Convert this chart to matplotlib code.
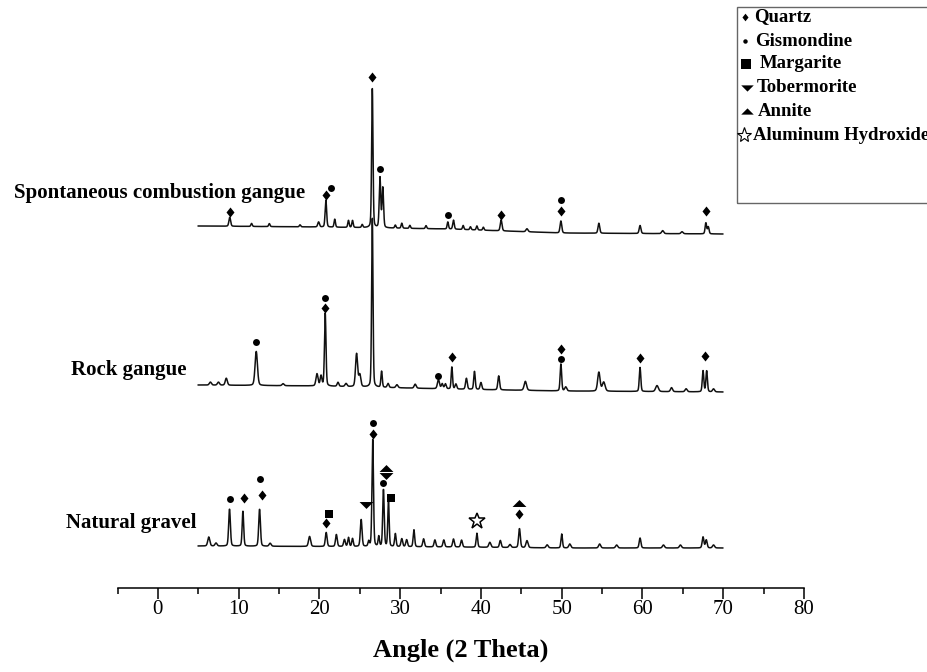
import matplotlib
matplotlib.use("Agg")
import matplotlib.pyplot as plt
import numpy as np
from matplotlib.lines import Line2D
from matplotlib.patches import Rectangle

plt.rcParams["font.family"] = ["Liberation Serif", "DejaVu Serif"]

# ---- data ----------------------------------------------------------------
# peaks: (2theta, height above background, fwhm in degrees)
spont_peaks = [
    (8.9, 9, 0.25), (11.6, 3, 0.2), (13.8, 3, 0.2), (17.6, 2, 0.2),
    (19.9, 5, 0.25), (20.8, 27, 0.22), (21.9, 8, 0.2), (23.6, 7, 0.2),
    (24.1, 7, 0.2), (25.3, 3, 0.2), (26.55, 140, 0.2), (27.5, 50, 0.22),
    (27.85, 40, 0.22), (29.4, 3, 0.2), (30.2, 5, 0.2), (31.2, 3, 0.2),
    (33.2, 3, 0.2), (35.9, 7, 0.2), (36.6, 9, 0.22), (37.8, 4, 0.2),
    (38.7, 3, 0.2), (39.5, 4, 0.2), (40.3, 3, 0.2), (42.5, 11, 0.25),
    (45.7, 3, 0.3), (49.9, 12, 0.25), (54.6, 10, 0.25), (59.7, 8, 0.25),
    (62.5, 3, 0.3), (64.9, 2, 0.3), (67.85, 11, 0.22), (68.15, 7, 0.22),
]
rock_peaks = [
    (6.5, 3, 0.3), (7.5, 3, 0.3), (8.47, 7, 0.3), (12.18, 34, 0.35),
    (15.5, 2, 0.3), (19.7, 12, 0.3), (20.2, 10, 0.25), (20.72, 73, 0.22),
    (22.3, 4, 0.25), (23.3, 3, 0.3), (24.6, 33, 0.3), (25.0, 12, 0.3),
    (26.55, 170, 0.2), (27.7, 16, 0.2), (28.5, 4, 0.25), (29.6, 3, 0.3),
    (31.86, 4, 0.3), (34.74, 9, 0.3), (35.2, 5, 0.25), (35.6, 5, 0.25),
    (36.4, 22, 0.2), (36.9, 5, 0.25), (38.2, 11, 0.25), (39.2, 18, 0.22),
    (40.0, 7, 0.25), (42.2, 14, 0.25), (45.5, 9, 0.35), (49.9, 27, 0.22),
    (50.5, 4, 0.3), (54.6, 19, 0.35), (55.2, 9, 0.4), (59.7, 24, 0.22),
    (61.8, 6, 0.4), (63.6, 4, 0.3), (65.4, 3, 0.3), (67.5, 21, 0.22),
    (67.95, 21, 0.22), (68.8, 3, 0.3),
]
gravel_peaks = [
    (6.3, 9, 0.3), (7.2, 3, 0.3), (8.87, 37, 0.25), (10.53, 35, 0.22),
    (12.59, 37, 0.25), (13.9, 3, 0.3), (18.78, 10, 0.3), (20.84, 14, 0.25),
    (22.1, 12, 0.25), (23.1, 7, 0.25), (23.6, 9, 0.22), (24.1, 8, 0.22),
    (25.17, 27, 0.25), (26.1, 5, 0.2), (26.6, 107, 0.22), (27.35, 10, 0.2),
    (27.93, 57, 0.22), (28.55, 47, 0.2), (29.4, 13, 0.22), (30.2, 8, 0.25),
    (30.8, 7, 0.25), (31.7, 17, 0.22), (32.9, 8, 0.25), (34.3, 7, 0.25),
    (35.4, 7, 0.25), (36.6, 8, 0.25), (37.6, 7, 0.25), (39.5, 14, 0.22),
    (41.1, 5, 0.3), (42.4, 7, 0.25), (43.6, 3, 0.3), (44.77, 19, 0.25),
    (45.7, 7, 0.3), (48.2, 3, 0.3), (50.0, 14, 0.22), (51.0, 4, 0.3),
    (54.7, 4, 0.3), (56.8, 3, 0.3), (59.7, 10, 0.25), (62.6, 3, 0.3),
    (64.7, 3, 0.3), (67.5, 11, 0.25), (67.9, 8, 0.25), (68.8, 3, 0.3),
]

# background level (relative) at a few angles
bg_angles = [5, 20, 36, 50, 70]
spont_bg = [3, 2, 0, -4, -5]
rock_bg = [4, 3, 0, -2, -3]
gravel_bg = [1, 0.5, 0, -1, -1]

samples = ["Spontaneous combustion gangue", "Rock gangue", "Natural gravel"]
phases = ["Quartz", "Gismondine", "Margarite", "Tobermorite", "Annite",
          "Aluminum Hydroxide"]

# phase marks: (sample, phase, 2theta of mark, peak it sits on, gap in px)
marks = [
    (0, "Quartz", 8.9, 8.9, 5), (0, "Quartz", 20.8, 20.8, 5),
    (0, "Gismondine", 21.4, 20.8, 12), (0, "Quartz", 26.55, 26.55, 12),
    (0, "Gismondine", 27.5, 27.5, 8), (0, "Gismondine", 35.9, 35.9, 7),
    (0, "Quartz", 42.5, 42.5, 5), (0, "Quartz", 49.9, 49.9, 10),
    (0, "Gismondine", 49.9, 49.9, 21), (0, "Quartz", 67.85, 67.85, 12),
    (1, "Gismondine", 12.18, 12.18, 9), (1, "Quartz", 20.72, 20.72, 5),
    (1, "Gismondine", 20.72, 20.72, 15), (1, "Gismondine", 34.74, 34.74, 4),
    (1, "Quartz", 36.4, 36.4, 10), (1, "Gismondine", 49.9, 49.9, 5),
    (1, "Quartz", 49.9, 49.9, 15), (1, "Quartz", 59.7, 59.7, 9),
    (1, "Quartz", 67.7, 67.5, 15),
    (2, "Gismondine", 8.87, 8.87, 10), (2, "Quartz", 10.7, 10.53, 13),
    (2, "Quartz", 12.9, 12.59, 14), (2, "Gismondine", 12.67, 12.59, 30),
    (2, "Quartz", 20.84, 20.84, 9), (2, "Margarite", 21.2, 20.84, 18),
    (2, "Tobermorite", 25.75, 25.17, 15), (2, "Quartz", 26.6, 26.6, 5),
    (2, "Gismondine", 26.6, 26.6, 16), (2, "Gismondine", 27.93, 27.93, 6),
    (2, "Tobermorite", 28.27, 27.93, 13.5), (2, "Annite", 28.27, 27.93, 21),
    (2, "Margarite", 28.9, 28.55, 1), (2, "Aluminum Hydroxide", 39.5, 39.5, 12),
    (2, "Quartz", 44.77, 44.77, 15), (2, "Annite", 44.77, 44.77, 26),
]

# ---- layout ----------------------------------------------------------------
W, H = 928, 672
offsets = [359, 199, 41]          # vertical stacking of the patterns (px)
label_pos = [(18.2, 395), (3.6, 218), (4.75, 65)]

diamond = [(0, 1), (0.8, 0), (0, -1), (-0.8, 0), (0, 1)]
tri_dn = [(-1, 0.5), (1, 0.5), (0, -0.5), (-1, 0.5)]
tri_up = [(-1, -0.5), (1, -0.5), (0, 0.5), (-1, -0.5)]
peak_style = {
    "Quartz": dict(marker=diamond, ms=7.2),
    "Gismondine": dict(marker="o", ms=5),
    "Margarite": dict(marker="s", ms=5.8),
    "Tobermorite": dict(marker=tri_dn, ms=10),
    "Annite": dict(marker=tri_up, ms=10),
    "Aluminum Hydroxide": dict(marker="*", ms=12, mfc="white", mew=1.1),
}
legend_style = {
    "Quartz": dict(marker=diamond, ms=5.5),
    "Gismondine": dict(marker="o", ms=3.2),
    "Margarite": dict(marker="s", ms=6.5),
    "Tobermorite": dict(marker=tri_dn, ms=9),
    "Annite": dict(marker=tri_up, ms=9),
    "Aluminum Hydroxide": dict(marker="*", ms=11, mfc="white", mew=0.8),
}

two_theta = np.arange(5.0, 69.96, 0.02)


def pattern(peaks, bg):
    y = np.interp(two_theta, bg_angles, bg).astype(float)
    for c, h, w in peaks:
        u = (two_theta - c) / (w / 2)
        y += h * (0.75 * np.exp(-np.log(2) * u ** 2) + 0.25 / (1 + u ** 2))
    return y


curves = [pattern(p, b) for p, b in
          [(spont_peaks, spont_bg), (rock_peaks, rock_bg),
           (gravel_peaks, gravel_bg)]]

fig = plt.figure(figsize=(W / 100, H / 100), dpi=100)
ax = fig.add_axes([117.5 / W, 84 / H, 686.5 / W, 548 / H])
ax.set_xlim(-5, 80)
ax.set_ylim(0, 548)

for i, c in enumerate(curves):
    ax.plot(two_theta, c + offsets[i], color="#111111", lw=1.1)
    ax.text(label_pos[i][0], label_pos[i][1], samples[i], ha="right",
            va="center", fontsize=15, fontweight="bold", clip_on=False)

for s, ph, x, anchor, gap in marks:
    win = np.abs(two_theta - anchor) <= 0.15
    tip = curves[s][win].max() + offsets[s]
    st = dict(mfc="black", mec="black", mew=0)
    st.update(peak_style[ph])
    if ph == "Aluminum Hydroxide":
        st["mec"] = "black"
    ax.plot([x], [tip + gap], ls="none", clip_on=False, **st)

ax.spines[["left", "top", "right"]].set_visible(False)
ax.spines["bottom"].set_linewidth(1.1)
ax.set_yticks([])
ax.set_xticks(np.arange(0, 81, 10))
ax.set_xticks(np.arange(-5, 80, 10), minor=True)
ax.tick_params(axis="x", which="major", direction="out", length=8,
               width=1.1, pad=1, labelsize=15)
ax.tick_params(axis="x", which="minor", direction="out", length=4, width=1.1)
ax.set_xlabel("Angle (2 Theta)", fontsize=19, fontweight="bold", labelpad=14)

# legend box drawn in pixel positions of the figure
fig.add_artist(Rectangle((737 / W, 1 - 203 / H), 230 / W, 196 / H,
                         transform=fig.transFigure, fill=False,
                         edgecolor="#666666", lw=1.0))
leg_marker_x = [745, 745, 746, 747, 747, 744]
leg_text_x = [754, 755, 760, 757, 758, 753]
leg_y = [17, 41, 64, 88, 111, 135]
for ph, mx, tx, ly in zip(phases, leg_marker_x, leg_text_x, leg_y):
    st = dict(mfc="black", mec="black", mew=0)
    st.update(legend_style[ph])
    fig.add_artist(Line2D([mx / W], [1 - ly / H], transform=fig.transFigure,
                          ls="none", **st))
    fig.text(tx / W, 1 - ly / H, ph, ha="left", va="center", fontsize=13.5,
             fontweight="bold")

fig.savefig("out.png", dpi=100)
